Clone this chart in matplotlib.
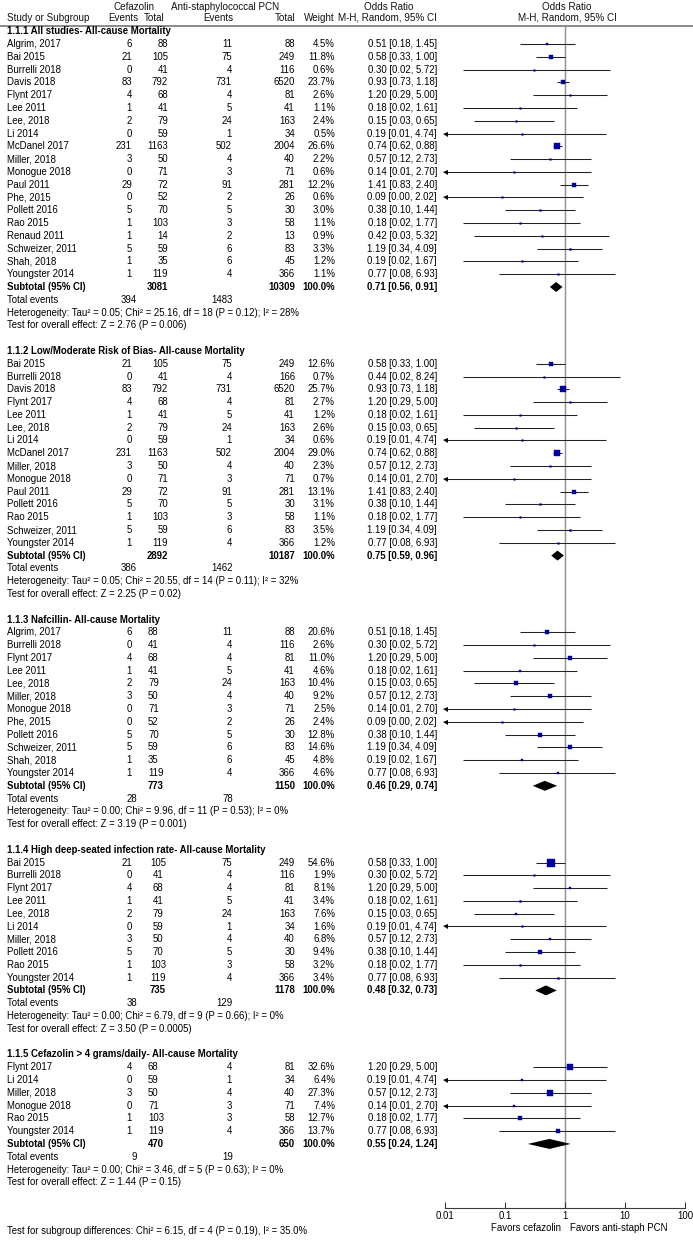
import matplotlib
matplotlib.use('Agg')
import matplotlib.pyplot as plt
from matplotlib import font_manager as fm
from matplotlib.ticker import NullLocator, FixedLocator, FixedFormatter

# ---------------- DATA ----------------
sec_titles = ["1.1.1 All studies- All-cause Mortality",
              "1.1.2 Low/Moderate Risk of Bias- All-cause Mortality",
              "1.1.3 Nafcillin- All-cause Mortality",
              "1.1.4 High deep-seated infection rate- All-cause Mortality",
              "1.1.5 Cefazolin > 4 grams/daily- All-cause Mortality"]

# 1.1.1
s1_study = ["Algrim, 2017", "Bai 2015", "Burrelli 2018", "Davis 2018", "Flynt 2017", "Lee 2011",
            "Lee, 2018", "Li 2014", "McDanel 2017", "Miller, 2018", "Monogue 2018", "Paul 2011",
            "Phe, 2015", "Pollett 2016", "Rao 2015", "Renaud 2011", "Schweizer, 2011", "Shah, 2018",
            "Youngster 2014"]
s1_cef_ev = [6, 21, 0, 83, 4, 1, 2, 0, 231, 3, 0, 29, 0, 5, 1, 1, 5, 1, 1]
s1_cef_n = [88, 105, 41, 792, 68, 41, 79, 59, 1163, 50, 71, 72, 52, 70, 103, 14, 59, 35, 119]
s1_pcn_ev = [11, 75, 4, 731, 4, 5, 24, 1, 502, 4, 3, 91, 2, 5, 3, 2, 6, 6, 4]
s1_pcn_n = [88, 249, 116, 6520, 81, 41, 163, 34, 2004, 40, 71, 281, 26, 30, 58, 13, 83, 45, 366]
s1_weight = [4.5, 11.8, 0.6, 23.7, 2.6, 1.1, 2.4, 0.5, 26.6, 2.2, 0.6, 12.2, 0.6, 3.0, 1.1, 0.9, 3.3, 1.2, 1.1]
s1_or = [0.51, 0.58, 0.30, 0.93, 1.20, 0.18, 0.15, 0.19, 0.74, 0.57, 0.14, 1.41, 0.09, 0.38, 0.18, 0.42, 1.19, 0.19, 0.77]
s1_lo = [0.18, 0.33, 0.02, 0.73, 0.29, 0.02, 0.03, 0.01, 0.62, 0.12, 0.01, 0.83, 0.00, 0.10, 0.02, 0.03, 0.34, 0.02, 0.08]
s1_hi = [1.45, 1.00, 5.72, 1.18, 5.00, 1.61, 0.65, 4.74, 0.88, 2.73, 2.70, 2.40, 2.02, 1.44, 1.77, 5.32, 4.09, 1.67, 6.93]
s1_sub = [3081, 10309, 0.71, 0.56, 0.91]
s1_tot_ev = [394, 1483]
s1_het = "Heterogeneity: Tau\u00b2 = 0.05; Chi\u00b2 = 25.16, df = 18 (P = 0.12); I\u00b2 = 28%"
s1_test = "Test for overall effect: Z = 2.76 (P = 0.006)"

# 1.1.2
s2_study = ["Bai 2015", "Burrelli 2018", "Davis 2018", "Flynt 2017", "Lee 2011", "Lee, 2018", "Li 2014",
            "McDanel 2017", "Miller, 2018", "Monogue 2018", "Paul 2011", "Pollett 2016", "Rao 2015",
            "Schweizer, 2011", "Youngster 2014"]
s2_cef_ev = [21, 0, 83, 4, 1, 2, 0, 231, 3, 0, 29, 5, 1, 5, 1]
s2_cef_n = [105, 41, 792, 68, 41, 79, 59, 1163, 50, 71, 72, 70, 103, 59, 119]
s2_pcn_ev = [75, 4, 731, 4, 5, 24, 1, 502, 4, 3, 91, 5, 3, 6, 4]
s2_pcn_n = [249, 166, 6520, 81, 41, 163, 34, 2004, 40, 71, 281, 30, 58, 83, 366]
s2_weight = [12.6, 0.7, 25.7, 2.7, 1.2, 2.6, 0.6, 29.0, 2.3, 0.7, 13.1, 3.1, 1.1, 3.5, 1.2]
s2_or = [0.58, 0.44, 0.93, 1.20, 0.18, 0.15, 0.19, 0.74, 0.57, 0.14, 1.41, 0.38, 0.18, 1.19, 0.77]
s2_lo = [0.33, 0.02, 0.73, 0.29, 0.02, 0.03, 0.01, 0.62, 0.12, 0.01, 0.83, 0.10, 0.02, 0.34, 0.08]
s2_hi = [1.00, 8.24, 1.18, 5.00, 1.61, 0.65, 4.74, 0.88, 2.73, 2.70, 2.40, 1.44, 1.77, 4.09, 6.93]
s2_sub = [2892, 10187, 0.75, 0.59, 0.96]
s2_tot_ev = [386, 1462]
s2_het = "Heterogeneity: Tau\u00b2 = 0.05; Chi\u00b2 = 20.55, df = 14 (P = 0.11); I\u00b2 = 32%"
s2_test = "Test for overall effect: Z = 2.25 (P = 0.02)"

# 1.1.3
s3_study = ["Algrim, 2017", "Burrelli 2018", "Flynt 2017", "Lee 2011", "Lee, 2018", "Miller, 2018",
            "Monogue 2018", "Phe, 2015", "Pollett 2016", "Schweizer, 2011", "Shah, 2018", "Youngster 2014"]
s3_cef_ev = [6, 0, 4, 1, 2, 3, 0, 0, 5, 5, 1, 1]
s3_cef_n = [88, 41, 68, 41, 79, 50, 71, 52, 70, 59, 35, 119]
s3_pcn_ev = [11, 4, 4, 5, 24, 4, 3, 2, 5, 6, 6, 4]
s3_pcn_n = [88, 116, 81, 41, 163, 40, 71, 26, 30, 83, 45, 366]
s3_weight = [20.6, 2.6, 11.0, 4.6, 10.4, 9.2, 2.5, 2.4, 12.8, 14.6, 4.8, 4.6]
s3_or = [0.51, 0.30, 1.20, 0.18, 0.15, 0.57, 0.14, 0.09, 0.38, 1.19, 0.19, 0.77]
s3_lo = [0.18, 0.02, 0.29, 0.02, 0.03, 0.12, 0.01, 0.00, 0.10, 0.34, 0.02, 0.08]
s3_hi = [1.45, 5.72, 5.00, 1.61, 0.65, 2.73, 2.70, 2.02, 1.44, 4.09, 1.67, 6.93]
s3_sub = [773, 1150, 0.46, 0.29, 0.74]
s3_tot_ev = [28, 78]
s3_het = "Heterogeneity: Tau\u00b2 = 0.00; Chi\u00b2 = 9.96, df = 11 (P = 0.53); I\u00b2 = 0%"
s3_test = "Test for overall effect: Z = 3.19 (P = 0.001)"

# 1.1.4
s4_study = ["Bai 2015", "Burrelli 2018", "Flynt 2017", "Lee 2011", "Lee, 2018", "Li 2014",
            "Miller, 2018", "Pollett 2016", "Rao 2015", "Youngster 2014"]
s4_cef_ev = [21, 0, 4, 1, 2, 0, 3, 5, 1, 1]
s4_cef_n = [105, 41, 68, 41, 79, 59, 50, 70, 103, 119]
s4_pcn_ev = [75, 4, 4, 5, 24, 1, 4, 5, 3, 4]
s4_pcn_n = [249, 116, 81, 41, 163, 34, 40, 30, 58, 366]
s4_weight = [54.6, 1.9, 8.1, 3.4, 7.6, 1.6, 6.8, 9.4, 3.2, 3.4]
s4_or = [0.58, 0.30, 1.20, 0.18, 0.15, 0.19, 0.57, 0.38, 0.18, 0.77]
s4_lo = [0.33, 0.02, 0.29, 0.02, 0.03, 0.01, 0.12, 0.10, 0.02, 0.08]
s4_hi = [1.00, 5.72, 5.00, 1.61, 0.65, 4.74, 2.73, 1.44, 1.77, 6.93]
s4_sub = [735, 1178, 0.48, 0.32, 0.73]
s4_tot_ev = [38, 129]
s4_het = "Heterogeneity: Tau\u00b2 = 0.00; Chi\u00b2 = 6.79, df = 9 (P = 0.66); I\u00b2 = 0%"
s4_test = "Test for overall effect: Z = 3.50 (P = 0.0005)"

# 1.1.5
s5_study = ["Flynt 2017", "Li 2014", "Miller, 2018", "Monogue 2018", "Rao 2015", "Youngster 2014"]
s5_cef_ev = [4, 0, 3, 0, 1, 1]
s5_cef_n = [68, 59, 50, 71, 103, 119]
s5_pcn_ev = [4, 1, 4, 3, 3, 4]
s5_pcn_n = [81, 34, 40, 71, 58, 366]
s5_weight = [32.6, 6.4, 27.3, 7.4, 12.7, 13.7]
s5_or = [1.20, 0.19, 0.57, 0.14, 0.18, 0.77]
s5_lo = [0.29, 0.01, 0.12, 0.01, 0.02, 0.08]
s5_hi = [5.00, 4.74, 2.73, 2.70, 1.77, 6.93]
s5_sub = [470, 650, 0.55, 0.24, 1.24]
s5_tot_ev = [9, 19]
s5_het = "Heterogeneity: Tau\u00b2 = 0.00; Chi\u00b2 = 3.46, df = 5 (P = 0.63); I\u00b2 = 0%"
s5_test = "Test for overall effect: Z = 1.44 (P = 0.15)"

subgroup_test = "Test for subgroup differences: Chi\u00b2 = 6.15, df = 4 (P = 0.19), I\u00b2 = 35.0%"
axis_ticks = [0.01, 0.1, 1, 10, 100]
axis_ticklabels = ["0.01", "0.1", "1", "10", "100"]
favors_left = "Favors cefazolin"
favors_right = "Favors anti-staph PCN"

# ---------------- LAYOUT ----------------
names = {f.name for f in fm.fontManager.ttflist}
FONT = 'Liberation Sans' if 'Liberation Sans' in names else 'DejaVu Sans'
if 'Liberation Sans Narrow' in names:
    HFONT, HSIZE, ASIZE = 'Liberation Sans Narrow', 8.2, 7.4
else:
    HFONT, HSIZE, ASIZE = FONT, 7.1, 6.9
FS = 6.9

W, H = 693, 1240
ROW0, ROWH = 31.2, 12.79


def prow(p):
    return (p - ROW0) / ROWH


fig = plt.figure(figsize=(W / 100, H / 100), dpi=100)
fig.patch.set_facecolor('white')
ax_t = fig.add_axes([0, 0, 1, 1])
ax_t.set_xlim(0, W)
ax_t.set_ylim(prow(H), prow(0))
ax_t.axis('off')

X0, X1 = 445, 685
AX_TOP, AX_BOT = 26, 1208
ax_f = fig.add_axes([X0 / W, 1 - AX_BOT / H, (X1 - X0) / W, (AX_BOT - AX_TOP) / H])
ax_f.set_xscale('log')
ax_f.set_xlim(axis_ticks[0], axis_ticks[-1])
ax_f.set_ylim(prow(AX_BOT), prow(AX_TOP))
ax_f.patch.set_alpha(0)
for s in ['top', 'left', 'right']:
    ax_f.spines[s].set_visible(False)
ax_f.spines['bottom'].set_color('#3a3a3a')
ax_f.spines['bottom'].set_linewidth(0.8)
ax_f.xaxis.set_major_locator(FixedLocator(axis_ticks))
ax_f.xaxis.set_major_formatter(FixedFormatter(axis_ticklabels))
ax_f.xaxis.set_minor_locator(NullLocator())
ax_f.set_yticks([])
ax_f.tick_params(axis='x', direction='in', length=4, width=0.8, color='#3a3a3a',
                 pad=2.5, labelsize=ASIZE)
for lab in ax_f.get_xticklabels():
    lab.set_fontfamily(HFONT)
    lab.set_fontsize(ASIZE)
ax_f.axvline(1, color='#8e8e8e', lw=1.0, zorder=1)

SQ = '#0000a0'
CI = '#222222'

# column headers
hkw = dict(family=HFONT, fontsize=HSIZE, color='#111111', va='center')
yh1, yh2 = prow(7), prow(18)
ax_t.text(134, yh1, "Cefazolin", ha='center', **hkw)
ax_t.text(225, yh1, "Anti-staphylococcal PCN", ha='center', **hkw)
ax_t.text(389, yh1, "Odds Ratio", ha='center', **hkw)
ax_t.text(567, yh1, "Odds Ratio", ha='center', **hkw)
ax_t.text(7, yh2, "Study or Subgroup", ha='left', **hkw)
ax_t.text(138, yh2, "Events", ha='right', **hkw)
ax_t.text(165, yh2, "Total", ha='right', **hkw)
ax_t.text(233, yh2, "Events", ha='right', **hkw)
ax_t.text(296, yh2, "Total", ha='right', **hkw)
ax_t.text(335, yh2, "Weight", ha='right', **hkw)
ax_t.text(437, yh2, "M-H, Random, 95% CI", ha='right', **hkw)
ax_t.text(567, yh2, "M-H, Random, 95% CI", ha='center', **hkw)
ax_t.axhline(prow(26), color='#8a8a8a', lw=1.4)

sections = [
    (s1_study, s1_cef_ev, s1_cef_n, s1_pcn_ev, s1_pcn_n, s1_weight, s1_or, s1_lo, s1_hi, s1_sub, s1_tot_ev, s1_het, s1_test),
    (s2_study, s2_cef_ev, s2_cef_n, s2_pcn_ev, s2_pcn_n, s2_weight, s2_or, s2_lo, s2_hi, s2_sub, s2_tot_ev, s2_het, s2_test),
    (s3_study, s3_cef_ev, s3_cef_n, s3_pcn_ev, s3_pcn_n, s3_weight, s3_or, s3_lo, s3_hi, s3_sub, s3_tot_ev, s3_het, s3_test),
    (s4_study, s4_cef_ev, s4_cef_n, s4_pcn_ev, s4_pcn_n, s4_weight, s4_or, s4_lo, s4_hi, s4_sub, s4_tot_ev, s4_het, s4_test),
    (s5_study, s5_cef_ev, s5_cef_n, s5_pcn_ev, s5_pcn_n, s5_weight, s5_or, s5_lo, s5_hi, s5_sub, s5_tot_ev, s5_het, s5_test),
]
# alignment of the cefazolin "Total" column per subgroup (x, ha)
cef_total_align = [(168, 'right'), (168, 'right'), (148, 'left'), (158, 'center'), (148, 'left')]

tkw = dict(family=FONT, fontsize=FS, color='black', va='center')
bkw = dict(family=FONT, fontsize=FS, color='black', va='center', fontweight='bold')
xmin = axis_ticks[0]

r = 0
for si, (st, ce, cn, pe, pn, wt, orv, lo, hi, sub, tev, het, test) in enumerate(sections):
    ax_t.text(7, r, sec_titles[si], ha='left', **bkw)
    r += 1
    cx, cha = cef_total_align[si]
    for i in range(len(st)):
        ax_t.text(7, r, st[i], ha='left', **tkw)
        ax_t.text(132, r, str(ce[i]), ha='right', **tkw)
        ax_t.text(cx, r, str(cn[i]), ha=cha, **tkw)
        ax_t.text(232, r, str(pe[i]), ha='right', **tkw)
        ax_t.text(295, r, str(pn[i]), ha='right', **tkw)
        ax_t.text(335, r, f"{wt[i]:.1f}%", ha='right', **tkw)
        ax_t.text(437, r, f"{orv[i]:.2f} [{lo[i]:.2f}, {hi[i]:.2f}]", ha='right', **tkw)
        lo_c = max(lo[i], xmin)
        ax_f.plot([lo_c, hi[i]], [r, r], color=CI, lw=0.75, solid_capstyle='butt', zorder=2)
        if lo[i] <= xmin:
            ax_f.plot([xmin], [r], marker='<', ms=3.6, color='black', mew=0, clip_on=False, zorder=3)
        side = max(1.6, wt[i] ** 0.5 * 1.0) * 0.72
        ax_f.plot([orv[i]], [r], marker='s', ms=side, color=SQ, mec=SQ, mew=0.3, zorder=4)
        r += 1
    # subtotal
    ax_t.text(7, r, "Subtotal (95% CI)", ha='left', **bkw)
    ax_t.text(cx, r, str(sub[0]), ha=cha, **bkw)
    ax_t.text(295, r, str(sub[1]), ha='right', **bkw)
    ax_t.text(335, r, "100.0%", ha='right', **bkw)
    ax_t.text(437, r, f"{sub[2]:.2f} [{sub[3]:.2f}, {sub[4]:.2f}]", ha='right', **bkw)
    hd = 0.39
    ax_f.fill([sub[3], sub[2], sub[4], sub[2]], [r, r - hd, r, r + hd], color='black', lw=0, zorder=4)
    ax_t.text(7, r + 1, "Total events", ha='left', **tkw)
    ax_t.text(137, r + 1, str(tev[0]), ha='right', **tkw)
    ax_t.text(233, r + 1, str(tev[1]), ha='right', **tkw)
    ax_t.text(7, r + 2, het, ha='left', **tkw)
    ax_t.text(7, r + 3, test, ha='left', **tkw)
    r += 5

ax_t.text(7, prow(1231), subgroup_test, ha='left', **tkw)
ax_t.text(561, prow(1227.5), favors_left, ha='right', family=HFONT, fontsize=ASIZE, va='center')
ax_t.text(570, prow(1227.5), favors_right, ha='left', family=HFONT, fontsize=ASIZE, va='center')

fig.savefig('out.png', dpi=100, facecolor='white')
